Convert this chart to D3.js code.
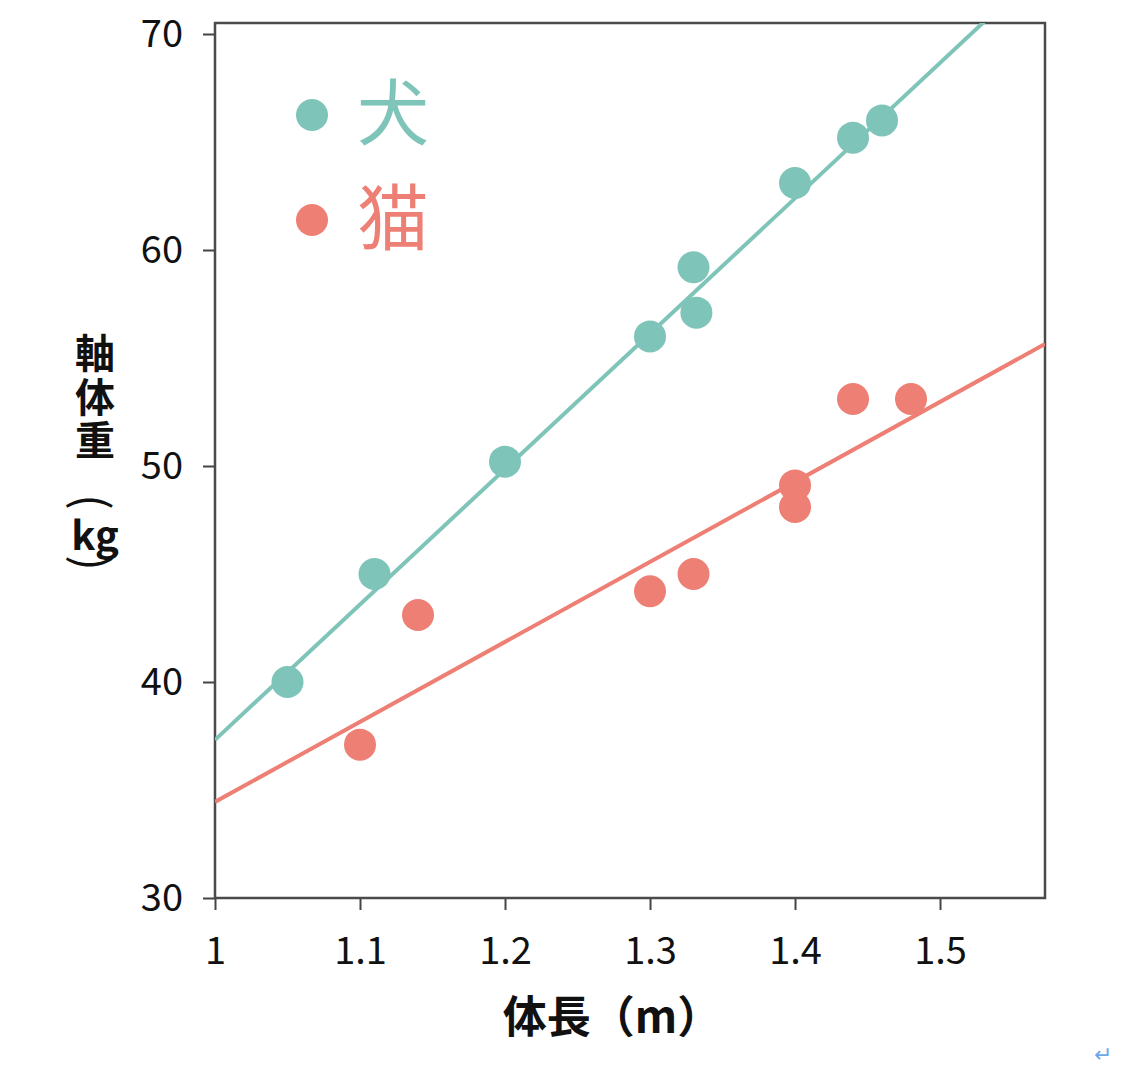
<!DOCTYPE html>
<html>
<head>
<meta charset="utf-8">
<script src="https://cdn.jsdelivr.net/npm/d3@7"></script>
<style>
  body { margin: 0; background: #fff; }
  svg { display: block; }
  text { font-family: "Noto Sans CJK JP", "Noto Sans", sans-serif; }
</style>
</head>
<body>
<svg id="chart" width="1134" height="1074"></svg>
<script>
// data
var seriesNames = ["犬", "猫"];
var seriesColors = ["#7fc4b9", "#ee7f74"];

var dogLength = [1.05, 1.11, 1.2, 1.3, 1.33, 1.332, 1.4, 1.44, 1.46];
var dogWeight = [40, 45, 50.2, 56, 59.2, 57.1, 63.1, 65.2, 66];

var catLength = [1.1, 1.14, 1.3, 1.33, 1.4, 1.4, 1.44, 1.48];
var catWeight = [37.1, 43.1, 44.2, 45, 49.1, 48.1, 53.1, 53.1];

// trend lines (ends)
var dogTrendX = [1, 1.5724];
var dogTrendY = [37.32, 73.2];
var catTrendX = [1, 1.5724];
var catTrendY = [34.45, 55.65];

var xTicks = [1, 1.1, 1.2, 1.3, 1.4, 1.5];
var yTicks = [30, 40, 50, 60, 70];

var svg = d3.select("#chart");
var margin = {left: 215, top: 23},
    width = 830,
    height = 875;

var x = d3.scaleLinear().domain([1, 1.5724]).range([0, width]);
var y = d3.scaleLinear().domain([30, 70.509]).range([height, 0]);

var g = svg.append("g")
    .attr("transform", "translate(" + margin.left + "," + margin.top + ")");

g.append("clipPath")
    .attr("id", "plot-clip")
    .append("rect")
    .attr("width", width)
    .attr("height", height);

// axes
var xAxis = g.append("g")
    .attr("transform", "translate(0," + height + ")")
    .call(d3.axisBottom(x).tickValues(xTicks).tickSize(12).tickPadding(27)
        .tickFormat(function(d) { return d3.format("")(d); }));

var yAxis = g.append("g")
    .call(d3.axisLeft(y).tickValues(yTicks).tickSize(12).tickPadding(20));

[xAxis, yAxis].forEach(function(a) {
    a.select(".domain").remove();
    a.selectAll("line").attr("stroke", "#444").attr("stroke-width", 2);
    a.selectAll("text")
        .attr("fill", "#111")
        .style("font-size", "38px");
});
xAxis.selectAll("text").attr("dy", "0.72em");

// frame
g.append("rect")
    .attr("width", width)
    .attr("height", height)
    .attr("fill", "none")
    .attr("stroke", "#4a4a4a")
    .attr("stroke-width", 2.5);

// trend lines
var series = [
    {xs: dogLength, ys: dogWeight, tx: dogTrendX, ty: dogTrendY},
    {xs: catLength, ys: catWeight, tx: catTrendX, ty: catTrendY}
];

var line = d3.line()
    .x(function(d) { return x(d[0]); })
    .y(function(d) { return y(d[1]); });

series.forEach(function(s, i) {
    g.append("path")
        .datum(d3.zip(s.tx, s.ty))
        .attr("clip-path", "url(#plot-clip)")
        .attr("d", line)
        .attr("fill", "none")
        .attr("stroke", seriesColors[i])
        .attr("stroke-width", 4);
});

series.forEach(function(s, i) {
    g.append("g")
        .selectAll("circle")
        .data(d3.zip(s.xs, s.ys))
        .enter()
        .append("circle")
        .attr("cx", function(d) { return x(d[0]); })
        .attr("cy", function(d) { return y(d[1]); })
        .attr("r", 16)
        .attr("fill", seriesColors[i]);
});

// legend
var legend = g.append("g")
    .attr("transform", "translate(97,92)");

var item = legend.selectAll("g")
    .data(seriesNames)
    .enter()
    .append("g")
    .attr("transform", function(d, i) { return "translate(0," + i * 105 + ")"; });

item.append("circle")
    .attr("r", 16)
    .attr("fill", function(d, i) { return seriesColors[i]; });

item.append("text")
    .attr("x", 45)
    .attr("dy", "0.33em")
    .attr("fill", function(d, i) { return seriesColors[i]; })
    .style("font-size", "72px")
    .text(function(d) { return d; });

// axis titles
svg.append("text")
    .attr("x", 612)
    .attr("y", 1018)
    .attr("dy", "0.35em")
    .attr("text-anchor", "middle")
    .style("font-size", "44px")
    .style("font-weight", "bold")
    .attr("fill", "#111")
    .text("体長（m）");

// vertical y title: upright characters, parentheses turned sideways
var yTitle = ["軸", "体", "重", "(", "kg", ")"];
var yTitlePos = [354, 398, 441, 502, 536, 563];
var yTitleTurn = [0, 0, 0, 90, 0, 90];

svg.append("g")
    .selectAll("text")
    .data(yTitle)
    .enter()
    .append("text")
    .attr("transform", function(d, i) {
        return "translate(95," + yTitlePos[i] + ") rotate(" + yTitleTurn[i] + ")";
    })
    .attr("dy", function(d, i) { return yTitleTurn[i] ? null : "0.35em"; })
    .attr("dominant-baseline", function(d, i) { return yTitleTurn[i] ? "central" : null; })
    .attr("text-anchor", "middle")
    .style("font-size", function(d, i) { return yTitleTurn[i] ? "46px" : "40px"; })
    .style("font-weight", function(d, i) { return yTitleTurn[i] ? "normal" : "bold"; })
    .attr("fill", "#111")
    .text(function(d) { return d; });

// return mark in the corner
svg.append("text")
    .attr("x", 1103)
    .attr("y", 1062)
    .attr("text-anchor", "middle")
    .style("font-size", "22px")
    .attr("fill", "#6aa6e8")
    .text("↵");
</script>
</body>
</html>
